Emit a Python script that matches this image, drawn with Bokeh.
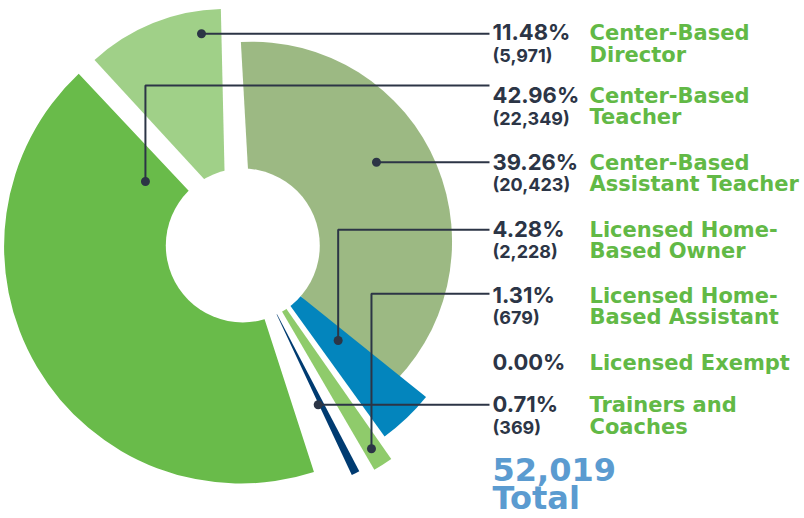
import math
from bokeh.plotting import figure
from bokeh.models import Range1d
from bokeh.core.properties import value
from bokeh.embed import file_html
from bokeh.resources import INLINE

# ---------------- data ----------------
categories = ["Center-Based Director", "Center-Based Teacher", "Center-Based Assistant Teacher",
              "Licensed Home-Based Owner", "Licensed Home-Based Assistant", "Licensed Exempt",
              "Trainers and Coaches"]
label_lines = [["Center-Based", "Director"], ["Center-Based", "Teacher"],
               ["Center-Based", "Assistant Teacher"], ["Licensed Home-", "Based Owner"],
               ["Licensed Home-", "Based Assistant"], ["Licensed Exempt"],
               ["Trainers and", "Coaches"]]
counts = [5971, 22349, 20423, 2228, 679, 0, 369]
total_count = 52019
total_word = "Total"

# ---------------- style / layout ----------------
colors = ["#a0d088", "#69bb4a", "#9cb983", "#0385bd", "#8fcb6b", "#8fcb6b", "#003b71"]
draw_order = [2, 3, 4, 5, 6, 1, 0]          # clockwise from the top
first_start_cw = 356.8                       # degrees, clockwise from 12 o'clock
gap_before = {3: -9.35, 4: 0.84, 5: 0.0, 6: 2.62, 1: 7.17, 0: 0.62}
explode = [47, 2, 10, 25, 15, 0, 66]         # px along the slice bisector
outer_r = [193, 237, 200, 213, 245, 0, 188]
hole_r = 77
W, H = 804, 518
CX, CY_SCREEN = 242.3, 245.0
BASE_FIX = 0.38                              # em correction for the text baseline


def ys(y_screen):
    return H - y_screen


def ty(y_screen, fs):
    return H - y_screen + BASE_FIX * fs


CY = ys(CY_SCREEN)

# leader anchors (polar around the centre) and the y of each row's leader line
anchor_angle = [348.96, 303.3, 58.07, 134.88, 147.67, None, 154.67]
anchor_r = [215.7, 116.5, 157.5, 134.6, 240.6, None, 176.2]
line_y = [33.3, 85.0, 161.7, 229.3, 293.3, None, 404.3]
line_end_x = 489
pct_x, label_x = 492, 589
row_base = [40, 102.7, 169.5, 236.5, 302.5, 370, 412]

DARK = "#2c3546"
GREEN = "#62b946"
BLUE_T = "#5b9bd0"
NUM_FONT = "Inter"
LBL_FONT = "DejaVu Sans"
FS_PCT, FS_CNT, FS_LBL, FS_TOT = 22, 18, 21, 32

p = figure(width=W, height=H, x_range=Range1d(0, W), y_range=Range1d(0, H),
           output_backend="svg", toolbar_location=None, min_border=0,
           x_axis_type=None, y_axis_type=None)
p.grid.visible = False
p.outline_line_color = None
p.background_fill_color = "white"
p.border_fill_color = "white"

# ---------------- slices ----------------
total = sum(counts)
cw = first_start_cw
for k, i in enumerate(draw_order):
    if k > 0:
        cw += gap_before[i]
    span = counts[i] / total * 360.0
    a1, a2 = cw, cw + span
    cw = a2
    if counts[i] == 0:
        continue
    mid = math.radians((a1 + a2) / 2)
    ax = CX + explode[i] * math.sin(mid)
    ay = CY + explode[i] * math.cos(mid)
    p.wedge(x=[ax], y=[ay], radius=outer_r[i],
            start_angle=math.radians(90 - a2), end_angle=math.radians(90 - a1),
            fill_color=colors[i], line_color=None)

# donut hole
p.circle(x=[CX], y=[CY], radius=hole_r, fill_color="white", line_color=None)

# ---------------- leader lines ----------------
xs_l, ys_l, dx, dy = [], [], [], []
for i in range(len(counts)):
    if anchor_angle[i] is None:
        continue
    t = math.radians(anchor_angle[i])
    px = CX + anchor_r[i] * math.sin(t)
    py = CY + anchor_r[i] * math.cos(t)
    ly = ys(line_y[i])
    xs_l.append([px, px, line_end_x])
    ys_l.append([py, ly, ly])
    dx.append(px)
    dy.append(py)
p.multi_line(xs=xs_l, ys=ys_l, line_color=DARK, line_width=2)
p.scatter(x=dx, y=dy, size=9, fill_color=DARK, line_color=None)

# ---------------- texts ----------------
pct_txt = [f"{c / total_count * 100:.2f}%" for c in counts]
cnt_txt = [f"({c:,})" if c > 0 else "" for c in counts]

p.text(x=[pct_x] * len(counts), y=[ty(b, FS_PCT) for b in row_base], text=pct_txt,
       text_font=value(NUM_FONT), text_font_style="bold", text_font_size=value(f"{FS_PCT}px"),
       text_color=DARK, text_baseline="alphabetic", text_align="left")
cx_, cy_, ct_ = [], [], []
for i, c in enumerate(cnt_txt):
    if c:
        cx_.append(pct_x)
        cy_.append(ty(row_base[i] + 21.8, FS_CNT))
        ct_.append(c)
p.text(x=cx_, y=cy_, text=ct_, text_font=value(NUM_FONT), text_font_style="bold",
       text_font_size=value(f"{FS_CNT}px"), text_color=DARK, text_baseline="alphabetic",
       text_align="left")
lx, ly_, lt = [], [], []
for i, lines in enumerate(label_lines):
    for j, s in enumerate(lines):
        lx.append(label_x)
        ly_.append(ty(row_base[i] + 0.5 + 21.5 * j, FS_LBL))
        lt.append(s)
p.text(x=lx, y=ly_, text=lt, text_font=value(LBL_FONT), text_font_style="bold",
       text_font_size=value(f"{FS_LBL}px"), text_color=GREEN, text_baseline="alphabetic",
       text_align="left")
p.text(x=[pct_x, pct_x], y=[ty(481.3, FS_TOT), ty(510, FS_TOT)],
       text=[f"{total_count:,}", total_word],
       text_font=value(LBL_FONT), text_font_style="bold", text_font_size=value(f"{FS_TOT}px"),
       text_color=BLUE_T, text_baseline="alphabetic", text_align="left")

open("out.html", "w").write(file_html(p, INLINE))
